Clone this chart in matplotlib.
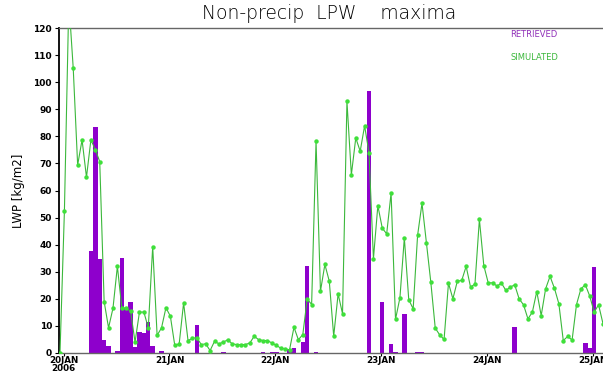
import numpy as np
import matplotlib
matplotlib.use('Agg')
from matplotlib import pyplot as plt

# hourly LWP maxima, first sample a little before 20JAN 00Z
sim_lwp = [0, 52.3, 130, 105.1, 69.4, 78.7, 64.9, 78.7, 75.1, 70.7,
           19.0, 9.3, 16.5, 32.0, 16.7, 16.5, 15.4, 4.0, 15.1, 15.1,
           9.3, 39.3, 6.5, 9.3, 16.7, 13.6, 2.8, 3.4, 18.5, 4.6,
           5.4, 5.7, 3.1, 3.4, 0.9, 4.3, 3.4, 4.0, 4.9, 3.4,
           3.1, 3.1, 3.1, 3.7, 6.2, 4.9, 4.6, 4.6, 3.7, 2.8,
           1.8, 1.5, 1.2, 9.5, 4.9, 6.8, 20.0, 17.9, 78.2, 22.8,
           32.7, 26.5, 6.2, 21.8, 14.5, 92.9, 65.8, 79.4, 74.5, 83.9,
           73.9, 34.8, 54.4, 46.1, 44.0, 59.1, 12.4, 20.4, 42.5, 19.7,
           16.3, 43.4, 55.3, 40.7, 26.1, 9.2, 6.7, 5.0, 25.8, 20.0,
           26.5, 26.8, 32.0, 24.3, 25.5, 49.3, 32.3, 25.9, 25.9, 24.7,
           25.8, 23.1, 24.3, 25.2, 20.0, 17.8, 12.6, 15.1, 22.7, 13.8,
           23.7, 28.3, 23.9, 18.2, 4.6, 6.1, 4.8, 17.9, 23.7, 25.2,
           21.0, 15.1, 17.8, 10.8]

ret_idx = [7, 8, 9, 10, 11, 13, 14, 15, 16, 17, 18, 19, 20, 21, 23, 31, 37,
           46, 48, 49, 52, 53, 55, 56, 58, 70, 73, 75, 76, 78, 81, 82,
           103, 119, 120, 121]
ret_lwp = [37.5, 83.6, 34.8, 4.9, 2.5, 0.7, 35.1, 16.7, 18.8, 2.2, 7.8, 7.3,
           11.4, 2.4, 0.7, 10.2, 0.3, 0.4, 0.5, 0.5, 1.2, 1.9, 4.1, 32.1, 0.3,
           96.6, 19.0, 3.2, 0.3, 14.5, 0.4, 0.4, 9.5, 3.6, 2.0, 31.7]

tick_labels = ['20JAN\n2006', '21JAN', '22JAN', '23JAN', '24JAN', '25JAN']
y_ticks = list(range(0, 121, 10))

t0 = -0.8  # hours from 20JAN 00Z of the first sample
hours = t0 + np.arange(len(sim_lwp))
ret_hours = t0 + np.array(ret_idx)

fig = plt.figure(figsize=(6.03, 3.72), dpi=100)
ax = fig.add_axes([0.0978, 0.0511, 0.9022, 0.8736])

ax.bar(ret_hours, ret_lwp, width=1.0, color='#8e00cc', zorder=2)
ax.plot(hours, sim_lwp, '-', color='#3cb83c', lw=0.8, zorder=3)
ax.plot(hours, sim_lwp, 'o', color='#3fe03a', ms=3.2, mew=0, zorder=4)

ax.set_xlim(-1.03, 122.2)
ax.set_ylim(0, 120)
ax.set_yticks(y_ticks)
ax.set_yticklabels([str(v) for v in y_ticks], fontsize=6.5, fontweight='bold')
ax.set_xticks(np.arange(0, 121, 24))
ax.set_xticklabels(tick_labels, fontsize=6.3, fontweight='bold', linespacing=0.8)
ax.tick_params(axis='y', length=3, width=0.8, pad=2)
ax.tick_params(axis='x', length=2, width=0.8, pad=0.3)

ax.spines['left'].set_linewidth(1.3)
ax.spines['left'].set_color('black')
for s in ['top', 'bottom']:
    ax.spines[s].set_color('#666666')
    ax.spines[s].set_linewidth(1.0)
ax.spines['right'].set_visible(False)

ax.set_ylabel('LWP [kg/m2]', fontsize=8.5, labelpad=6)
fig.text(0.545, 0.965, 'Non-precip  LPW    maxima', ha='center', va='center',
         fontsize=13.5, fontweight='light', color='black')

fig.text(0.846, 0.9, 'RETRIEVED', color='#9030b8', fontsize=6)
fig.text(0.846, 0.838, 'SIMULATED', color='#3cb83c', fontsize=6)

fig.savefig('out.png', dpi=100)
